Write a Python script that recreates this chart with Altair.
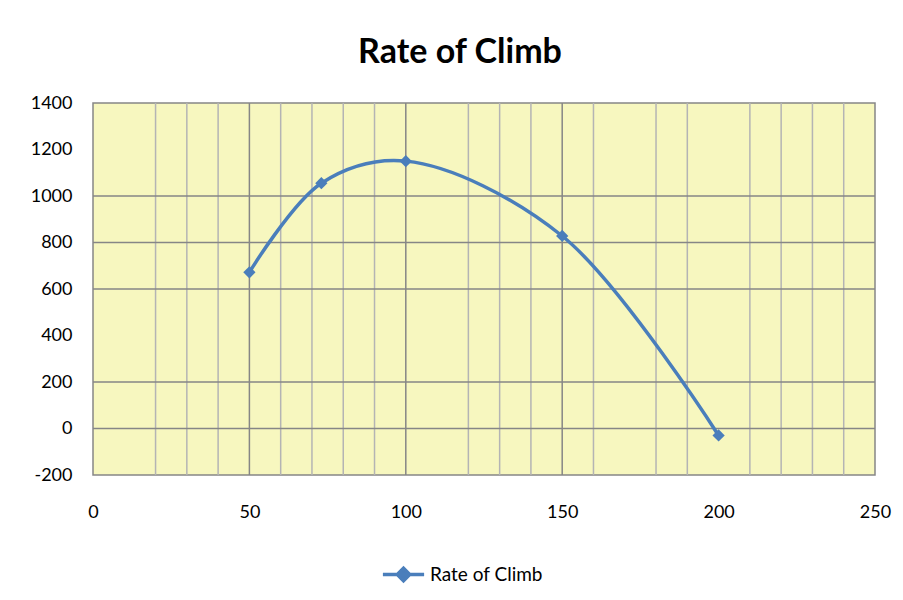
import altair as alt
import pandas as pd

# Data
speed = [50, 73, 100, 150, 200]
rate_of_climb = [672, 1055, 1150, 828, -30]
series_name = ["Rate of Climb"] * 5

# gridlines visible in the reference image
minor_x = [20, 30, 40, 60, 70, 80, 90, 120, 130, 140, 160, 180, 190, 210, 220, 230, 240]
major_x = [50, 100, 150]
grid_y = [1000, 800, 600, 200, 0]

x_ticks = [0, 50, 100, 150, 200, 250]
y_ticks = [-200, 0, 200, 400, 600, 800, 1000, 1200, 1400]

df = pd.DataFrame({"speed": speed, "roc": rate_of_climb, "series": series_name})
df_minor = pd.DataFrame({"x": minor_x})
df_major = pd.DataFrame({"x": major_x})
df_gy = pd.DataFrame({"y": grid_y})

BLUE = "#4A7EBB"
FONT = "Lato"

xscale = alt.Scale(domain=[0, 250], nice=False, zero=False)
yscale = alt.Scale(domain=[-200, 1400], nice=False, zero=False)

xaxis = alt.Axis(values=x_ticks, grid=False, domain=False, ticks=False, labelPadding=28,
                 labelExpr="datum.value + ''", labelFlush=False, labelBound=False,
                 labelFont=FONT, labelFontSize=18, labelColor="#000000", title=None)
yaxis = alt.Axis(values=y_ticks, grid=False, domain=False, ticks=False, labelPadding=21,
                 labelExpr="datum.value + ''", labelFlush=False, labelBound=False,
                 labelFont=FONT, labelFontSize=18, labelColor="#000000", title=None)

minor = alt.Chart(df_minor).mark_rule(color="#B4B4B4", strokeWidth=1.5).encode(
    x=alt.X("x:Q", scale=xscale, axis=xaxis)
)
major = alt.Chart(df_major).mark_rule(color="#868686", strokeWidth=1.5).encode(
    x=alt.X("x:Q", scale=xscale)
)
hgrid = alt.Chart(df_gy).mark_rule(color="#868686", strokeWidth=1.5).encode(
    y=alt.Y("y:Q", scale=yscale, axis=yaxis)
)

line = alt.Chart(df).mark_line(color=BLUE, strokeWidth=3.5, interpolate="catmull-rom").encode(
    x=alt.X("speed:Q", scale=xscale),
    y=alt.Y("roc:Q", scale=yscale),
)

points = alt.Chart(df).mark_point(shape="diamond", filled=True, size=150, opacity=1).encode(
    x=alt.X("speed:Q", scale=xscale),
    y=alt.Y("roc:Q", scale=yscale),
    color=alt.Color(
        "series:N",
        scale=alt.Scale(range=[BLUE]),
        legend=alt.Legend(
            title=None,
            orient="none",
            legendX=288,
            legendY=449,
            symbolType="M-1,0L1,0M0,-0.3L0.3,0L0,0.3L-0.3,0Z",
            symbolSize=1700,
            symbolStrokeColor=BLUE,
            symbolFillColor=BLUE,
            symbolStrokeWidth=3.5,
            labelFont=FONT,
            labelFontSize=19,
            labelColor="#000000",
            labelOffset=4,
        ),
    ),
)

chart = (
    alt.layer(minor, major, hgrid, line, points)
    .properties(
        width=782,
        height=372,
        title=alt.TitleParams(
            "Rate of Climb",
            font=FONT,
            fontSize=34,
            fontWeight="bold",
            color="#000000",
            anchor="middle",
            dx=-24,
            offset=24,
        ),
        autosize=alt.AutoSizeParams(type="none"),
        padding={"left": 85, "top": 95, "right": 20, "bottom": 125},
        background="#FFFFFF",
    )
    .configure_view(fill="#F7F7BF", stroke="#868686", strokeWidth=1.5)
)

chart.save("out.html", embed_options={"renderer": "svg", "actions": False})
